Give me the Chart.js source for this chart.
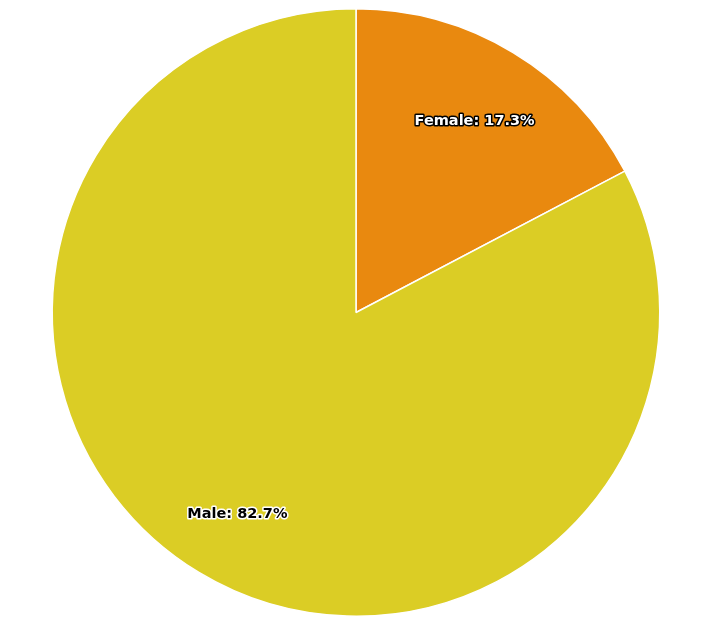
<!DOCTYPE html>
<html><head><meta charset="utf-8">
<script src="https://cdn.jsdelivr.net/npm/chart.js@4/dist/chart.umd.min.js"></script>
<style>html,body{margin:0;padding:0;background:#fff;}#wrap{width:706px;height:631px;}</style>
</head><body><div id="wrap"><canvas id="c"></canvas></div>
<script>
const categories = ["Female", "Male"];
const values = [17.3, 82.7];
const colors = ["#E9890F", "#DBCD25"];

const labelPlugin = {
  id: 'sliceLabels',
  afterDatasetsDraw(chart) {
    const ctx = chart.ctx;
    const meta = chart.getDatasetMeta(0);
    ctx.save();
    ctx.font = 'bold 14.5px "DejaVu Sans"';
    ctx.textAlign = 'center';
    ctx.textBaseline = 'middle';
    ctx.lineJoin = 'round';
    meta.data.forEach((arc, i) => {
      const p = arc.getProps(['x','y','startAngle','endAngle','outerRadius'], true);
      const mid = (p.startAngle + p.endAngle) / 2;
      const r = p.outerRadius * 0.755;
      const x = p.x + Math.cos(mid) * r;
      const y = p.y + Math.sin(mid) * r + 5;
      const txt = categories[i] + ': ' + values[i].toFixed(1) + '%';
      const dark = i === 0;
      ctx.lineWidth = 3;
      ctx.strokeStyle = dark ? '#000' : '#fff';
      ctx.strokeText(txt, x, y);
      ctx.fillStyle = dark ? '#fff' : '#000';
      ctx.fillText(txt, x, y);
    });
    ctx.restore();
  }
};

new Chart(document.getElementById('c'), {
  type: 'pie',
  data: {
    labels: categories,
    datasets: [{ data: values, backgroundColor: colors, borderColor: '#ffffff', borderWidth: 1.5 }]
  },
  options: {
    responsive: true,
    maintainAspectRatio: false,
    animation: false,
    layout: { padding: { left: 6, right: 0, top: 8, bottom: 14 } },
    plugins: { legend: { display: false }, tooltip: { enabled: false } }
  },
  plugins: [labelPlugin]
});
</script></body></html>
